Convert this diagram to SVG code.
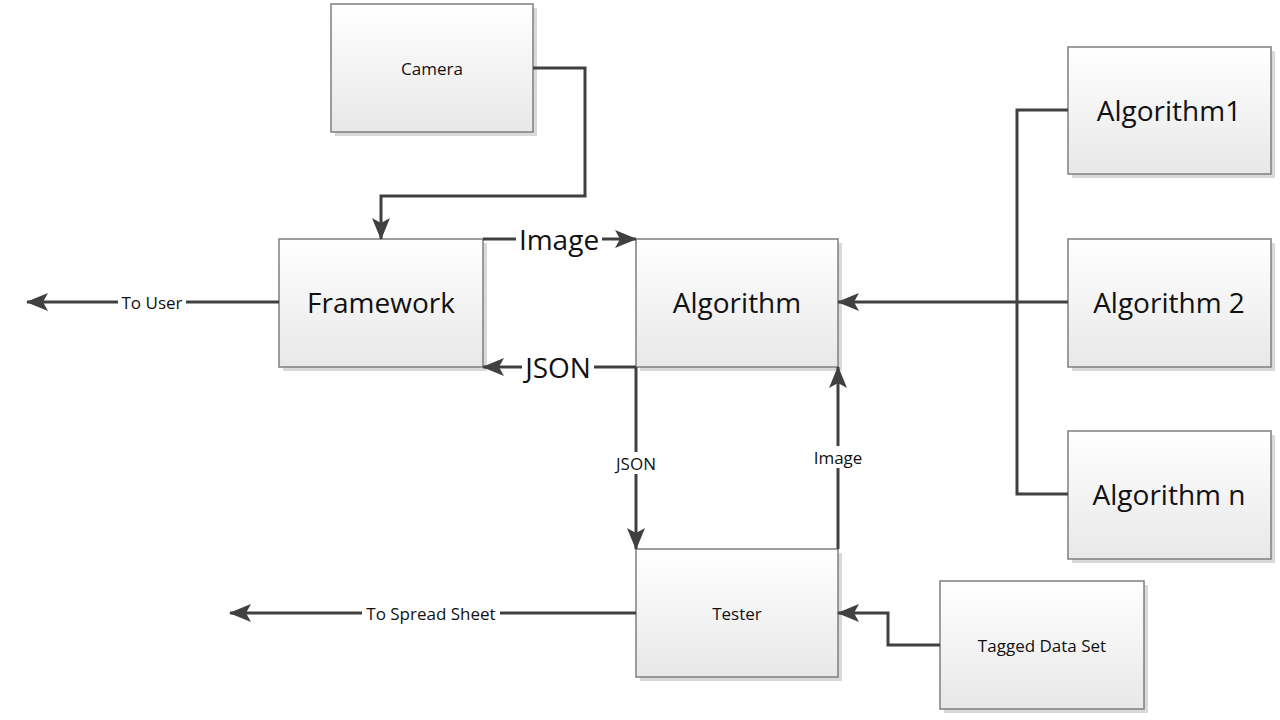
<svg xmlns="http://www.w3.org/2000/svg" width="1280" height="720" viewBox="0 0 1280 720">
<defs>
<linearGradient id="g" x1="0" y1="0" x2="0" y2="1">
<stop offset="0" stop-color="#ffffff"/>
<stop offset="1" stop-color="#e8e8e8"/>
</linearGradient>
<marker id="ah" markerUnits="userSpaceOnUse" markerWidth="22" markerHeight="18" viewBox="0 0 22 18" refX="21" refY="9" orient="auto">
<path d="M0,0 L22,9 L0,18 L5,9 Z" fill="#404040"/>
</marker>
</defs>
<style>
.box rect.b{fill:url(#g);stroke:#7f7f7f;stroke-width:1.5}
.box rect.s{fill:#d9d9d9}
.t{font-family:"Open Sans","Liberation Sans",sans-serif;fill:#111;text-anchor:middle;dominant-baseline:central}
.big{font-size:28px}
.sm{font-size:17px}
.c{fill:none;stroke:#404040;stroke-width:3}
.bg{fill:#fff}
</style>
<rect width="1280" height="720" fill="#fff"/>
<g id="camera" class="box"><rect class="s" x="335" y="8" width="202" height="128"/><rect class="b" x="331" y="4" width="202" height="128"/><text class="t sm" x="432" y="68">Camera</text></g>
<g id="framework" class="box"><rect class="s" x="283" y="243" width="204" height="128"/><rect class="b" x="279" y="239" width="204" height="128"/><text class="t big" x="381" y="302">Framework</text></g>
<g id="algorithm" class="box"><rect class="s" x="640" y="243" width="202" height="128"/><rect class="b" x="636" y="239" width="202" height="128"/><text class="t big" x="737" y="302">Algorithm</text></g>
<g id="tester" class="box"><rect class="s" x="640" y="553" width="202" height="128"/><rect class="b" x="636" y="549" width="202" height="128"/><text class="t sm" x="737" y="613">Tester</text></g>
<g id="tagged" class="box"><rect class="s" x="944" y="585" width="204" height="128"/><rect class="b" x="940" y="581" width="204" height="128"/><text class="t sm" x="1042" y="645">Tagged Data Set</text></g>
<g id="alg1" class="box"><rect class="s" x="1072" y="51" width="203" height="127"/><rect class="b" x="1068" y="47" width="203" height="127"/><text class="t big" x="1169" y="110">Algorithm1</text></g>
<g id="alg2" class="box"><rect class="s" x="1072" y="243" width="203" height="128"/><rect class="b" x="1068" y="239" width="203" height="128"/><text class="t big" x="1169" y="302">Algorithm 2</text></g>
<g id="algn" class="box"><rect class="s" x="1072" y="435" width="203" height="128"/><rect class="b" x="1068" y="431" width="203" height="128"/><text class="t big" x="1169" y="494">Algorithm n</text></g>
<g id="connectors">
<path class="c" d="M533,68 H585 V196 H381 V239" marker-end="url(#ah)"/>
<path class="c" d="M483,239 H636" marker-end="url(#ah)"/>
<path class="c" d="M636,367 H483" marker-end="url(#ah)"/>
<path class="c" d="M636,367 V549" marker-end="url(#ah)"/>
<path class="c" d="M838,549 V367" marker-end="url(#ah)"/>
<path class="c" d="M1068,302 H838" marker-end="url(#ah)"/>
<path class="c" d="M1068,110 H1017 V494 H1068"/>
<path class="c" d="M279,302 H27" marker-end="url(#ah)"/>
<path class="c" d="M636,613 H230" marker-end="url(#ah)"/>
<path class="c" d="M940,645 H888 V613 H838" marker-end="url(#ah)"/>
<rect class="bg" x="516" y="228" width="86" height="22"/>
<text class="t big" x="559" y="239">Image</text>
<rect class="bg" x="522" y="356" width="72" height="22"/>
<text class="t big" x="558" y="367">JSON</text>
<rect class="bg" x="612" y="452" width="48" height="22"/>
<text class="t sm" x="636" y="463">JSON</text>
<rect class="bg" x="808" y="446" width="60" height="22"/>
<text class="t sm" x="838" y="457">Image</text>
<rect class="bg" x="118" y="292" width="68" height="20"/>
<text class="t sm" x="152" y="302">To User</text>
<rect class="bg" x="362" y="603" width="138" height="20"/>
<text class="t sm" x="431" y="613">To Spread Sheet</text>
</g>
</svg>
